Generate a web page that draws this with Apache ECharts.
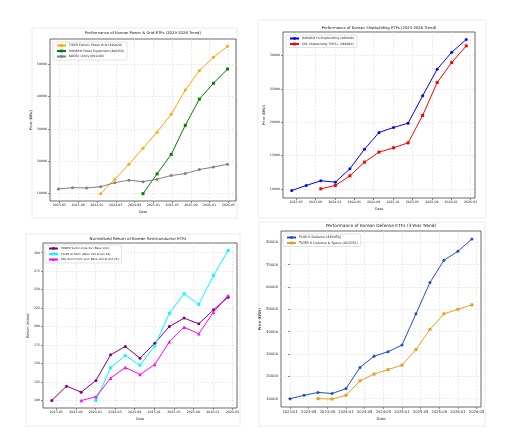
<!DOCTYPE html>
<html>
<head>
<meta charset="utf-8">
<script src="https://cdn.jsdelivr.net/npm/echarts@6/dist/echarts.min.js"></script>
<style>
  html, body { margin: 0; padding: 0; background: #fff; }
  #main { width: 512px; height: 448px; }
</style>
</head>
<body>
<div id="main"></div>
<script>
// sample dates (quarterly)
const powerDates = ['2023-04-25', '2023-07-25', '2023-10-25', '2024-01-25', '2024-04-25', '2024-07-25', '2024-10-25',
  '2025-01-25', '2025-04-25', '2025-07-25', '2025-10-25', '2026-01-25', '2026-04-25'];
const shipDates = ['2023-04-04', '2023-07-04', '2023-10-04', '2024-01-04', '2024-04-04', '2024-07-04', '2024-10-04',
  '2025-01-04', '2025-04-04', '2025-07-04', '2025-10-04', '2026-01-04', '2026-04-04'];
const semiDates = shipDates;
const defenseDates = ['2023-01-01', '2023-04-01', '2023-07-01', '2023-10-01', '2024-01-01', '2024-04-01', '2024-07-01',
  '2024-10-01', '2025-01-01', '2025-04-01', '2025-07-01', '2025-10-01', '2026-01-01', '2026-04-01'];

// power & grid (KRW)
const tigerGrid = [null, null, null, 10000, 14450, 19100, 24050, 29000, 34500, 42000, 48000, 52100, 55500];
const hanaroPower = [null, null, null, null, null, null, 10000, 16100, 22100, 31100, 39200, 44100, 48500];
const kodexUtility = [11450, 11850, 11750, 12150, 13400, 14150, 13700, 14450, 15600, 16200, 17450, 18200, 19100];

// shipbuilding (KRW)
const hanaroShip = [9750, 10500, 11200, 11000, 13000, 15950, 18450, 19200, 19850, 23950, 27950, 30500, 32400];
const solShip = [null, null, 10000, 10500, 11950, 14000, 15500, 16150, 16900, 21000, 25950, 28950, 31450];

// semiconductor (index, base 100)
const kodexSemi = [100, 119.4, 111.3, 127.1, 161.8, 173.1, 157.3, 177.6, 200.2, 211.5, 203.8, 222.7, 239.9];
const tigerSemi = [null, null, null, 100, 144.2, 160.9, 147.8, 173.6, 218.2, 244.4, 230, 269.2, 303];
const solSemi = [null, null, 100, 105, 130.2, 144.7, 135.2, 148.7, 179.4, 199.3, 190.3, 219.6, 242.2];

// defense (KRW)
const plusDefense = [10000, 11500, 12800, 12300, 14500, 24000, 29000, 31000, 34000, 48000, 62000, 72000, 76000, 81500];
const tigerDefense = [null, null, 10000, 9850, 11500, 18000, 21000, 23000, 25000, 32000, 41000, 48000, 50000, 52000];

// tick labels
const monthTicks = ['2023-05', '2023-09', '2024-01', '2024-05', '2024-09', '2025-01', '2025-05', '2025-09', '2026-01', '2026-05'];
const monthTicksDefense = ['2023-01'].concat(monthTicks);
const priceTicksPower = [10000, 20000, 30000, 40000, 50000];
const priceTicksShip = [10000, 15000, 20000, 25000, 30000];
const indexTicksSemi = [100, 125, 150, 175, 200, 225, 250, 275, 300];
const priceTicksDefense = [10000, 20000, 30000, 40000, 50000, 60000, 70000, 80000];

var FONT = 'DejaVu Sans';

function monthIndex(d) {
  const p = d.split('-').map(Number);
  return (p[0] - 2023) * 12 + (p[1] - 1) + (p[2] - 1) / 30;
}
function monthLabel(m) {
  const r = Math.round(m);
  const y = 2023 + Math.floor(r / 12);
  const mo = (r % 12) + 1;
  return y + '-' + (mo < 10 ? '0' : '') + mo;
}

const panels = [
  {
    title: 'Performance of Korean Power & Grid ETFs (2023-2026 Trend)',
    titleX: 143, titleY: 31, fonts: { title: 3.8, tick: 3.2, legend: 3.0, name: 3.4 },
    grid: { left: 50, top: 39, width: 186, height: 162 },
    card: [32, 28, 205, 190],
    yName: 'Price (KRW)', yGap: 15,
    yTicks: priceTicksPower, xTicks: monthTicks,
    legend: { left: 53, top: 42 },
    dates: powerDates,
    series: [
      { name: 'TIGER Electric Power Grid (491820)', data: tigerGrid, color: '#ffa500', symbol: 'circle' },
      { name: 'HANARO Power Equipment (486450)', data: hanaroPower, color: '#008000', symbol: 'rect' },
      { name: 'KODEX Utility (091180)', data: kodexUtility, color: '#808080', symbol: 'circle' }
    ]
  },
  {
    title: 'Performance of Korean Shipbuilding ETFs (2023-2026 Trend)',
    titleX: 379, titleY: 26, fonts: { title: 3.8, tick: 3.2, legend: 3.0, name: 3.4 },
    grid: { left: 283, top: 32, width: 192, height: 166 },
    card: [258, 20, 228, 198],
    yName: 'Price (KRW)', yGap: 15,
    yTicks: priceTicksShip, xTicks: monthTicks,
    legend: { left: 286, top: 35 },
    dates: shipDates,
    series: [
      { name: 'HANARO Fn Shipbuilding (466940)', data: hanaroShip, color: '#0000ff', symbol: 'circle' },
      { name: 'SOL Shipbuilding TOP3+ (466920)', data: solShip, color: '#ff0000', symbol: 'rect' }
    ]
  },
  {
    title: 'Normalized Return of Korean Semiconductor ETFs',
    titleX: 138, titleY: 237, fonts: { title: 3.9, tick: 3.2, legend: 2.8, name: 3.4 },
    grid: { left: 43, top: 243, width: 194, height: 165 },
    card: [26, 234, 214, 192],
    yName: 'Return (Index)', yGap: 12,
    yTicks: indexTicksSemi, xTicks: monthTicks,
    legend: { left: 45, top: 245 },
    dates: semiDates,
    series: [
      { name: 'KODEX Semiconductor (Base 100)', data: kodexSemi, color: '#800080', symbol: 'circle' },
      { name: 'TIGER AI Semi (Base 100 at Jan 24)', data: tigerSemi, color: '#00ffff', symbol: 'rect' },
      { name: 'SOL Semi Front-end (Base 100 at Oct 23)', data: solSemi, color: '#ff00ff', symbol: 'triangle' }
    ]
  },
  {
    title: 'Performance of Korean Defense ETFs (3-Year Trend)',
    titleX: 381, titleY: 224, fonts: { title: 4.3, tick: 3.7, legend: 3.3, name: 3.8 },
    grid: { left: 281, top: 231, width: 200, height: 176 },
    card: [259, 222, 226, 204],
    yName: 'Price (KRW)', yGap: 17,
    yTicks: priceTicksDefense, xTicks: monthTicksDefense,
    legend: { left: 283, top: 234 },
    dates: defenseDates,
    series: [
      { name: 'PLUS K Defense (449450)', data: plusDefense, color: '#1f4fc0', symbol: 'circle' },
      { name: 'TIGER K Defense & Space (463250)', data: tigerDefense, color: '#e69f1f', symbol: 'rect' }
    ]
  }
];

const option = {
  animation: false,
  backgroundColor: '#fff',
  textStyle: { fontFamily: FONT },
  title: [], legend: [], grid: [], xAxis: [], yAxis: [], series: [],
  graphic: []
};

panels.forEach(function (p, i) {
  const xs = p.dates.map(monthIndex);
  let vals = [];
  p.series.forEach(function (s) { s.data.forEach(function (v) { if (v != null) vals.push(v); }); });
  const yLo = Math.min.apply(null, vals), yHi = Math.max.apply(null, vals);
  const yPad = (yHi - yLo) * 0.05;
  const xLo = Math.min.apply(null, xs), xHi = Math.max.apply(null, xs);
  const xPad = (xHi - xLo) * 0.05;
  const xTickVals = p.xTicks.map(function (t) { return monthIndex(t + '-01'); });
  const f = p.fonts;

  option.graphic.push({
    type: 'rect', silent: true, z: -10,
    shape: { x: p.card[0], y: p.card[1], width: p.card[2], height: p.card[3] },
    style: { fill: '#fff', stroke: '#e4e4e4', lineWidth: 0.8 }
  });

  option.title.push({
    text: p.title,
    left: p.titleX, top: p.titleY, textAlign: 'center', padding: 0,
    textStyle: { fontSize: f.title, fontWeight: 'normal', color: '#111', fontFamily: FONT }
  });

  option.legend.push({
    data: p.series.map(function (s) { return s.name; }),
    orient: 'vertical',
    left: p.legend.left, top: p.legend.top,
    padding: [2, 3], itemGap: 2.5, itemWidth: 9, itemHeight: 3.5,
    backgroundColor: '#fff', borderColor: '#d0d0d0', borderWidth: 0.6, borderRadius: 1,
    textStyle: { fontSize: f.legend, color: '#222', fontFamily: FONT, padding: [0, 0, 0, -2] }
  });

  option.grid.push(Object.assign({ show: true, borderColor: '#444', borderWidth: 0.8, backgroundColor: '#fff' }, p.grid));

  option.xAxis.push({
    type: 'value', gridIndex: i,
    min: xLo - xPad, max: xHi + xPad,
    name: 'Date', nameLocation: 'middle', nameGap: 10,
    nameTextStyle: { fontSize: f.name, color: '#222' },
    axisLine: { show: false },
    axisTick: { show: true, length: 2, customValues: xTickVals, lineStyle: { color: '#444', width: 0.6 } },
    axisLabel: { customValues: xTickVals, fontSize: f.tick, color: '#222', margin: 3,
      formatter: function (v) { return monthLabel(v); } },
    splitLine: { show: true, customValues: xTickVals, lineStyle: { color: '#dcdcdc', type: [2, 1.5], width: 0.6 } }
  });

  option.yAxis.push({
    type: 'value', gridIndex: i,
    min: yLo - yPad, max: yHi + yPad,
    name: p.yName, nameLocation: 'middle', nameGap: p.yGap,
    nameTextStyle: { fontSize: f.name, color: '#222' },
    axisLine: { show: false },
    axisTick: { show: true, length: 2, customValues: p.yTicks, lineStyle: { color: '#444', width: 0.6 } },
    axisLabel: { customValues: p.yTicks, fontSize: f.tick, color: '#222', margin: 3,
      formatter: function (v) { return String(Math.round(v)); } },
    splitLine: { show: true, customValues: p.yTicks, lineStyle: { color: '#dcdcdc', type: [2, 1.5], width: 0.6 } }
  });

  p.series.forEach(function (s) {
    const pts = [];
    s.data.forEach(function (v, k) { if (v != null) pts.push([xs[k], v]); });
    option.series.push({
      name: s.name, type: 'line', xAxisIndex: i, yAxisIndex: i,
      data: pts, symbol: s.symbol, symbolSize: s.symbol === 'triangle' ? 3.5 : 3,
      color: s.color,
      lineStyle: { width: 1, color: s.color },
      itemStyle: { color: s.color }
    });
  });
});

var myChart = echarts.init(document.getElementById('main'));
myChart.setOption(option);
</script>
</body>
</html>
